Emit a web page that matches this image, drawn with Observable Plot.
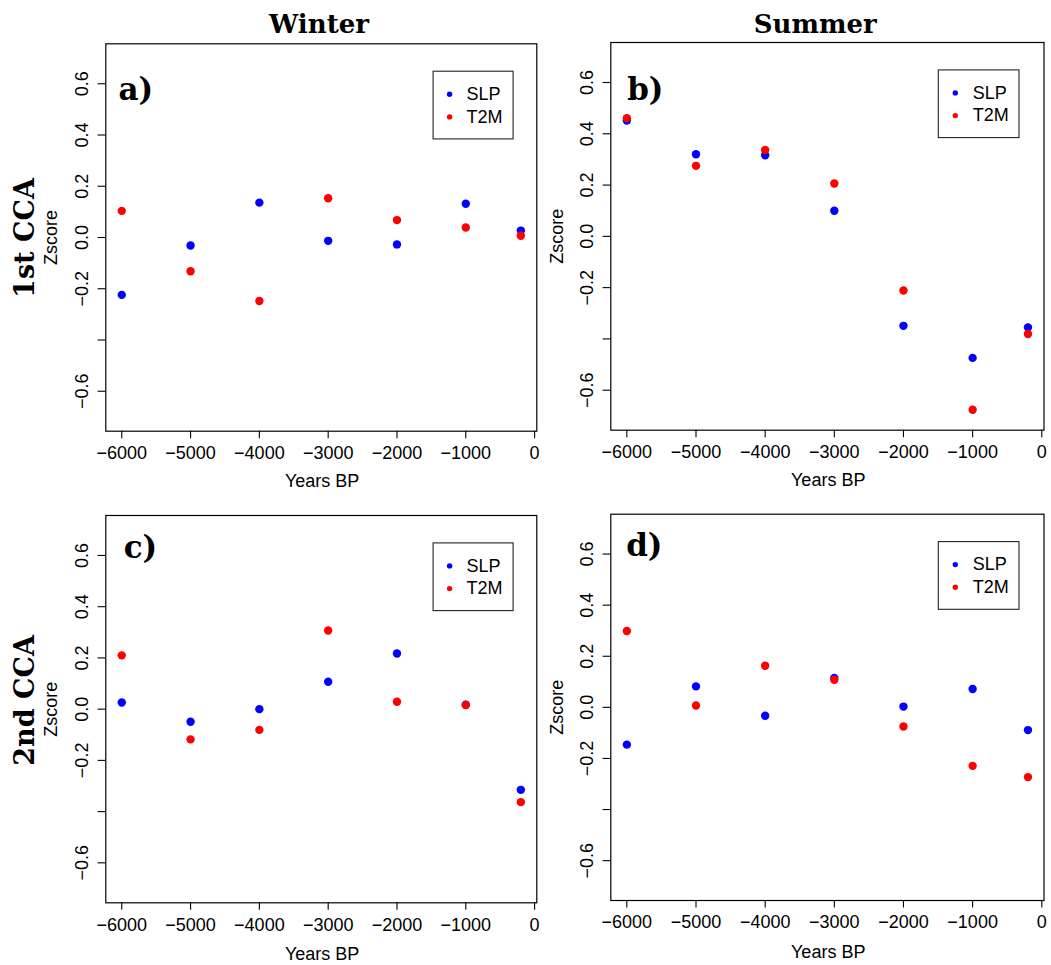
<!DOCTYPE html>
<html><head><meta charset="utf-8">
<script src="https://cdn.jsdelivr.net/npm/d3@7"></script>
<script src="https://cdn.jsdelivr.net/npm/@observablehq/plot@0.6"></script>
<style>
body{margin:0;background:#fff;}
#wrap{position:relative;width:1051px;height:965px;background:#fff;overflow:hidden;}
#wrap svg{position:absolute;background:transparent;overflow:visible;}
</style></head><body><div id="wrap"></div>
<script>
// ---- data ----
const years = [-6000, -5000, -4000, -3000, -2000, -1000, -200];
const series = ["SLP", "T2M"];
const seriesColors = ["#0000ff", "#ff0000"];
const seasons = ["Winter", "Summer"];
const rowLabels = ["1st CCA", "2nd CCA"];
const panelLetters = ["a)", "b)", "c)", "d)"];
const winter1SLP = [-0.224, -0.031, 0.136, -0.013, -0.027, 0.132, 0.027];
const winter1T2M = [0.104, -0.132, -0.248, 0.153, 0.068, 0.039, 0.007];
const summer1SLP = [0.452, 0.320, 0.316, 0.100, -0.349, -0.474, -0.355];
const summer1T2M = [0.461, 0.275, 0.337, 0.206, -0.211, -0.676, -0.381];
const winter2SLP = [0.026, -0.049, 0.000, 0.107, 0.217, 0.017, -0.315];
const winter2T2M = [0.210, -0.118, -0.081, 0.307, 0.029, 0.016, -0.363];
const summer2SLP = [-0.146, 0.082, -0.033, 0.115, 0.003, 0.072, -0.089];
const summer2T2M = [0.299, 0.007, 0.163, 0.108, -0.075, -0.229, -0.273];
const xTicks = [-6000, -5000, -4000, -3000, -2000, -1000, 0];
const xTickLabels = ["−6000", "−5000", "−4000", "−3000", "−2000", "−1000", "0"];
const yTicks = [-0.6, -0.4, -0.2, 0, 0.2, 0.4, 0.6];
const yTickLabels = ["−0.6", "", "−0.2", "0.0", "0.2", "0.4", "0.6"];
const xLabel = "Years BP";
const yLabel = "Zscore";

const xDomain = [-6232, 32];
const yDomain = [-0.756, 0.756];
const xLab = new Map(xTicks.map((t, i) => [t, xTickLabels[i]]));
const yLab = new Map(yTicks.map((t, i) => [t, yTickLabels[i]]));
const SANS = "'Liberation Sans', Arial, Helvetica, sans-serif";
const SERIF = "'DejaVu Serif', serif";

// layout of the four panels (pixels)
const panels = [
  {slp: winter1SLP, t2m: winter1T2M, letter: panelLetters[0], left: 0, top: 0, width: 540, height: 490,
   ml: 105.3, mr: 3.7, mt: 43.3, mb: 59.3, ldx: 30, ldy: 46.5, zdx: -54.5, xdy: 50.4,
   boxW: 80, boxR: 23.7, dotX: 16.5, txtX: 33.4,
   title: seasons[0], tdx: -2.3, tdy: -19.6, row: rowLabels[0], rdy: 0.5},
  {slp: summer1SLP, t2m: summer1T2M, letter: panelLetters[1], left: 540, top: 0, width: 511, height: 490,
   ml: 70.3, mr: 7.5, mt: 42, mb: 60.3, ldx: 34.5, ldy: 47.8, zdx: -53.3, xdy: 50.4,
   boxW: 80.7, boxR: 25, dotX: 17, txtX: 34.5,
   title: seasons[1], tdx: -12.2, tdy: -18.3},
  {slp: winter2SLP, t2m: winter2T2M, letter: panelLetters[2], left: 0, top: 490, width: 540, height: 475,
   ml: 105.3, mr: 3.7, mt: 25, mb: 62.7, ldx: 34.7, ldy: 32.8, zdx: -54.5, xdy: 51.1,
   boxW: 80, boxR: 23.7, dotX: 16.5, txtX: 33.4,
   row: rowLabels[1], rdy: -8.7},
  {slp: summer2SLP, t2m: summer2T2M, letter: panelLetters[3], left: 540, top: 490, width: 511, height: 475,
   ml: 70.3, mr: 7.5, mt: 23.7, mb: 65, ldx: 33.5, ldy: 32.1, zdx: -53.3, xdy: 51.4,
   boxW: 80.7, boxR: 25, dotX: 17, txtX: 34.5}
];

const wrap = document.getElementById("wrap");
const T = {lineAnchor: "middle", fill: "black"};

for (const c of panels) {
  const rows = [];
  c.slp.forEach((v, i) => rows.push({year: years[i], z: v, series: series[0]}));
  c.t2m.forEach((v, i) => rows.push({year: years[i], z: v, series: series[1]}));
  const fw = c.width - c.ml - c.mr, fh = c.height - c.mt - c.mb;
  const boxH = 67.7, boxT = 27.4;
  const marks = [
    Plot.frame({stroke: "black", strokeWidth: 1.2}),
    // tick marks (labels drawn as text marks)
    Plot.axisX({ticks: xTicks, tickFormat: () => "", tickSize: 7.5, strokeWidth: 1.1, label: null}),
    Plot.axisY({ticks: yTicks, tickFormat: () => "", tickSize: 7.7, strokeWidth: 1.1, label: null}),
    Plot.text(xTicks, {...T, x: d => d, text: d => xLab.get(d), frameAnchor: "bottom", dy: 22,
      textAnchor: "middle", fontSize: 18, fontFamily: SANS}),
    Plot.text(yTicks, {...T, y: d => d, text: d => yLab.get(d), frameAnchor: "left", dx: -23.7, rotate: -90,
      textAnchor: "middle", fontSize: 18, fontFamily: SANS}),
    Plot.dot(rows, {x: "year", y: "z", fill: "series", r: 4.2}),
    // legend box
    Plot.frame({stroke: "#222", strokeWidth: 1.1, insetRight: c.boxR, insetTop: boxT,
      insetLeft: fw - c.boxR - c.boxW, insetBottom: fh - boxT - boxH}),
    ...series.map((s, i) => Plot.dot([s], {frameAnchor: "top-right", dx: -(c.boxR + c.boxW - c.dotX),
      dy: boxT + 23 + i * 22.7, r: 2.7, fill: seriesColors[i]})),
    ...series.map((s, i) => Plot.text([s], {...T, text: d => d, frameAnchor: "top-right", dx: -(c.boxR + c.boxW - c.txtX),
      dy: boxT + 23 + i * 22.7, textAnchor: "start", fontSize: 18, fontFamily: SANS})),
    Plot.text([c.letter], {...T, text: d => d, frameAnchor: "top-left", dx: c.ldx, dy: c.ldy,
      textAnchor: "middle", fontSize: 31, fontWeight: "bold", fontFamily: SERIF}),
    Plot.text([xLabel], {...T, text: d => d, frameAnchor: "bottom", dx: 0.8, dy: c.xdy, textAnchor: "middle", fontSize: 18, fontFamily: SANS}),
    Plot.text([yLabel], {...T, text: d => d, frameAnchor: "left", dx: c.zdx, rotate: -90, textAnchor: "middle", fontSize: 18, fontFamily: SANS})
  ];
  if (c.title) marks.push(Plot.text([c.title], {...T, text: d => d, frameAnchor: "top", dx: c.tdx, dy: c.tdy,
    textAnchor: "middle", fontSize: 26, fontWeight: "bold", fontFamily: SERIF}));
  if (c.row) marks.push(Plot.text([c.row], {...T, text: d => d, frameAnchor: "left", dx: -80.1, dy: c.rdy, rotate: -90,
    textAnchor: "middle", fontSize: 27, fontWeight: "bold", fontFamily: SERIF}));
  const p = Plot.plot({
    width: c.width, height: c.height,
    marginLeft: c.ml, marginRight: c.mr, marginTop: c.mt, marginBottom: c.mb,
    x: {domain: xDomain},
    y: {domain: yDomain},
    color: {domain: series, range: seriesColors},
    style: {fontFamily: SANS, fontSize: "18px", color: "black", background: "transparent", overflow: "visible"},
    marks
  });
  p.style.left = c.left + "px";
  p.style.top = c.top + "px";
  wrap.appendChild(p);
}
</script></body></html>
